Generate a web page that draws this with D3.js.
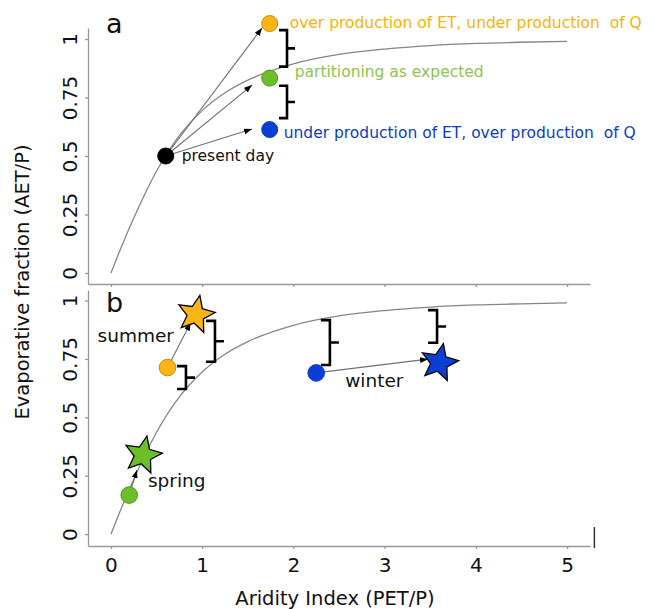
<!DOCTYPE html>
<html lang="en">
<head>
    <meta charset="UTF-8">
    <title>Budyko partitioning</title>
    <script src="https://d3js.org/d3.v7.min.js"></script>
    <style>
        body { margin: 0; background: #fff; }
        text { font-family: "DejaVu Sans", Verdana, sans-serif; }
    </style>
</head>
<body>
    <script>
        // budyko curve
        const curveX = [0, 0.1, 0.25, 0.5, 0.75, 1, 1.25, 1.5, 2, 2.5, 3, 3.5, 4, 4.5, 5];
        const curveY = [0, 0.098, 0.235, 0.436, 0.587, 0.694, 0.770, 0.824, 0.894, 0.934, 0.957, 0.972, 0.981, 0.986, 0.990];

        const xTicks = [0, 1, 2, 3, 4, 5];
        const yTicks = [0, 0.25, 0.5, 0.75, 1];

        // panel a
        const aNames = ["present day", "over production of ET, under production  of Q", "partitioning as expected", "under production of ET, over production  of Q"];
        const aX = [0.6, 1.74, 1.74, 1.74];
        const aY = [0.5, 1.066, 0.833, 0.613];
        const aArrowEndX = [1.656, 1.546, 1.546];
        const aArrowEndY = [1.047, 0.803, 0.615];
        const aBraceX = [1.93, 1.93];
        const aBraceTop = [1.038, 0.80];
        const aBraceBottom = [0.882, 0.662];

        // panel b
        const seasons = ["spring", "summer", "winter"];
        const bFromX = [0.2, 0.62, 2.25];
        const bFromY = [0.167, 0.713, 0.69];
        const bToX = [0.35, 0.93, 3.6];
        const bToY = [0.338, 0.94, 0.734];
        const bArrowEndX = [0.285, 0.874, 3.476];
        const bArrowEndY = [0.274, 0.905, 0.749];
        const bBraceX = [1.14, 0.822, 2.4, 3.575];
        const bBraceTop = [0.913, 0.719, 0.916, 0.959];
        const bBraceBottom = [0.738, 0.621, 0.724, 0.819];

        const width = 654, height = 609;
        const fill = { black: "#000", orange: "#FDB515", green: "#6EBE2C", blue: "#0B3ED2" };
        const edge = { black: "#000", orange: "#C98A00", green: "#4E9A1A", blue: "#0B3ED2" };
        const textCol = { black: "#111", orange: "#F8B400", green: "#8CC64E", blue: "#0B3CC8" };
        const aColors = ["black", "orange", "green", "blue"];
        const bColors = ["green", "orange", "blue"];

        const svg = d3.select("body").append("svg")
            .attr("width", width)
            .attr("height", height);

        svg.append("defs").append("marker")
            .attr("id", "head")
            .attr("markerUnits", "userSpaceOnUse")
            .attr("markerWidth", 9).attr("markerHeight", 7)
            .attr("refX", 8).attr("refY", 3)
            .attr("orient", "auto")
            .append("path").attr("d", "M0,0 L8,3 L0,6 z").attr("fill", "#000");

        const x = d3.scaleLinear().domain([-0.252, 5.252]).range([88, 590]);
        const ya = d3.scaleLinear().domain([-0.047, 1.047]).range([284, 28]);
        const yb = d3.scaleLinear().domain([-0.051, 1.045]).range([546, 290]);

        function drawAxes(y, showX) {
            const gy = svg.append("g").attr("transform", "translate(88,0)")
                .call(d3.axisLeft(y).tickValues(yTicks).tickSize(3).tickSizeOuter(0).tickFormat(d => String(d)));
            gy.selectAll("text")
                .attr("x", null).attr("dy", null)
                .attr("transform", "translate(-11,0) rotate(-90)")
                .attr("text-anchor", "middle")
                .attr("font-size", 20).attr("fill", "#111");
            const gx = svg.append("g").attr("transform", `translate(0,${y.range()[0]})`)
                .call(d3.axisBottom(x).tickValues(xTicks).tickSize(3).tickSizeOuter(0)
                    .tickFormat(showX ? d => String(d) : ""));
            gx.selectAll("text").attr("dy", null).attr("y", 26)
                .attr("font-size", 20).attr("fill", "#111");
            svg.selectAll(".domain, .tick line").attr("stroke", "#999").attr("stroke-width", 1.3);
            svg.selectAll(".tick text").attr("font-family", "DejaVu Sans");
        }

        function drawCurve(y) {
            const line = d3.line().x(i => x(curveX[i])).y(i => y(curveY[i])).curve(d3.curveMonotoneX);
            svg.append("path")
                .attr("d", line(d3.range(curveX.length)))
                .attr("fill", "none").attr("stroke", "#858585").attr("stroke-width", 1.3);
        }

        function drawBraces(y, bx, top, bottom, arm, nub) {
            svg.append("g").selectAll("path").data(bx).join("path")
                .attr("d", (d, i) => {
                    const vx = x(d), t = y(top[i]), b = y(bottom[i]), m = (t + b) / 2;
                    return `M${vx - arm},${t}H${vx}V${b}H${vx - arm}M${vx},${m}H${vx + nub}`;
                })
                .attr("fill", "none").attr("stroke", "#000").attr("stroke-width", 2.6);
        }

        function arrows(y, x1, y1, x2, y2) {
            svg.append("g").selectAll("line").data(x2).join("line")
                .attr("x1", (d, i) => x(x1[i])).attr("y1", (d, i) => y(y1[i]))
                .attr("x2", d => x(d)).attr("y2", (d, i) => y(y2[i]))
                .attr("stroke", "#707070").attr("stroke-width", 1.1)
                .attr("marker-end", "url(#head)");
        }

        function starPath(r) {
            const pts = d3.range(10).map(k => [k * Math.PI / 5, k % 2 ? r * 0.45 : r]);
            return d3.lineRadial().curve(d3.curveLinearClosed)(pts);
        }

        // ---- panel a ----
        drawAxes(ya, false);
        drawCurve(ya);
        arrows(ya, [0.6, 0.6, 0.6], [0.5, 0.5, 0.5], aArrowEndX, aArrowEndY);
        drawBraces(ya, aBraceX, aBraceTop, aBraceBottom, 8, 8);

        svg.append("g").selectAll("circle").data(aX).join("circle")
            .attr("cx", d => x(d)).attr("cy", (d, i) => ya(aY[i])).attr("r", 8)
            .attr("fill", (d, i) => fill[aColors[i]])
            .attr("stroke", (d, i) => edge[aColors[i]]).attr("stroke-width", 1);

        const aOff = [[16, 5], [20, 4], [25, -1], [14, 8]];
        svg.append("g").selectAll("text").data(aNames).join("text")
            .attr("x", (d, i) => x(aX[i]) + aOff[i][0])
            .attr("y", (d, i) => ya(aY[i]) + aOff[i][1])
            .attr("font-size", 15.5)
            .style("white-space", "pre")
            .attr("fill", (d, i) => textCol[aColors[i]])
            .text(d => d);

        svg.append("text").attr("x", 106).attr("y", 33).attr("font-size", 27).attr("fill", "#111").text("a");

        // ---- panel b ----
        drawAxes(yb, true);
        drawCurve(yb);
        arrows(yb, bFromX, bFromY, bArrowEndX, bArrowEndY);
        drawBraces(yb, bBraceX, bBraceTop, bBraceBottom, 9, 9);

        svg.append("g").selectAll("circle").data(bFromX).join("circle")
            .attr("cx", d => x(d)).attr("cy", (d, i) => yb(bFromY[i])).attr("r", 8.3)
            .attr("fill", (d, i) => fill[bColors[i]])
            .attr("stroke", (d, i) => edge[bColors[i]]).attr("stroke-width", 1);

        svg.append("g").selectAll("path").data(bToX).join("path")
            .attr("d", starPath(19.5))
            .attr("transform", (d, i) => `translate(${x(d)},${yb(bToY[i])}) rotate(12)`)
            .attr("fill", (d, i) => fill[bColors[i]])
            .attr("stroke", "#000").attr("stroke-width", 1.3).attr("stroke-linejoin", "miter");

        const bOff = [[-52, -10, 32], [-70, -26, 0], [29, 14, 0]];
        svg.append("g").selectAll("text").data(seasons).join("text")
            .attr("x", (d, i) => (i === 0 ? x(bToX[i]) + 5 : x(bFromX[i]) + bOff[i][0]))
            .attr("y", (d, i) => (i === 0 ? yb(bToY[i]) + 32 : yb(bFromY[i]) + bOff[i][1]))
            .attr("font-size", 18.5).attr("fill", "#111")
            .text(d => d);

        svg.append("text").attr("x", 106).attr("y", 312).attr("font-size", 27).attr("fill", "#111").text("b");

        // stray tick mark at the right end of the lower axis
        svg.append("line")
            .attr("x1", x(5.3)).attr("x2", x(5.3))
            .attr("y1", yb(0.03)).attr("y2", yb(-0.06))
            .attr("stroke", "#333").attr("stroke-width", 1.5);

        // axis titles
        svg.append("text")
            .attr("transform", "translate(29,282) rotate(-90)")
            .attr("text-anchor", "middle").attr("font-size", 19.5).attr("fill", "#111")
            .text("Evaporative fraction (AET/P)");
        svg.append("text")
            .attr("x", 335).attr("y", 605)
            .attr("text-anchor", "middle").attr("font-size", 19.5).attr("fill", "#111")
            .text("Aridity Index (PET/P)");
    </script>
</body>
</html>
